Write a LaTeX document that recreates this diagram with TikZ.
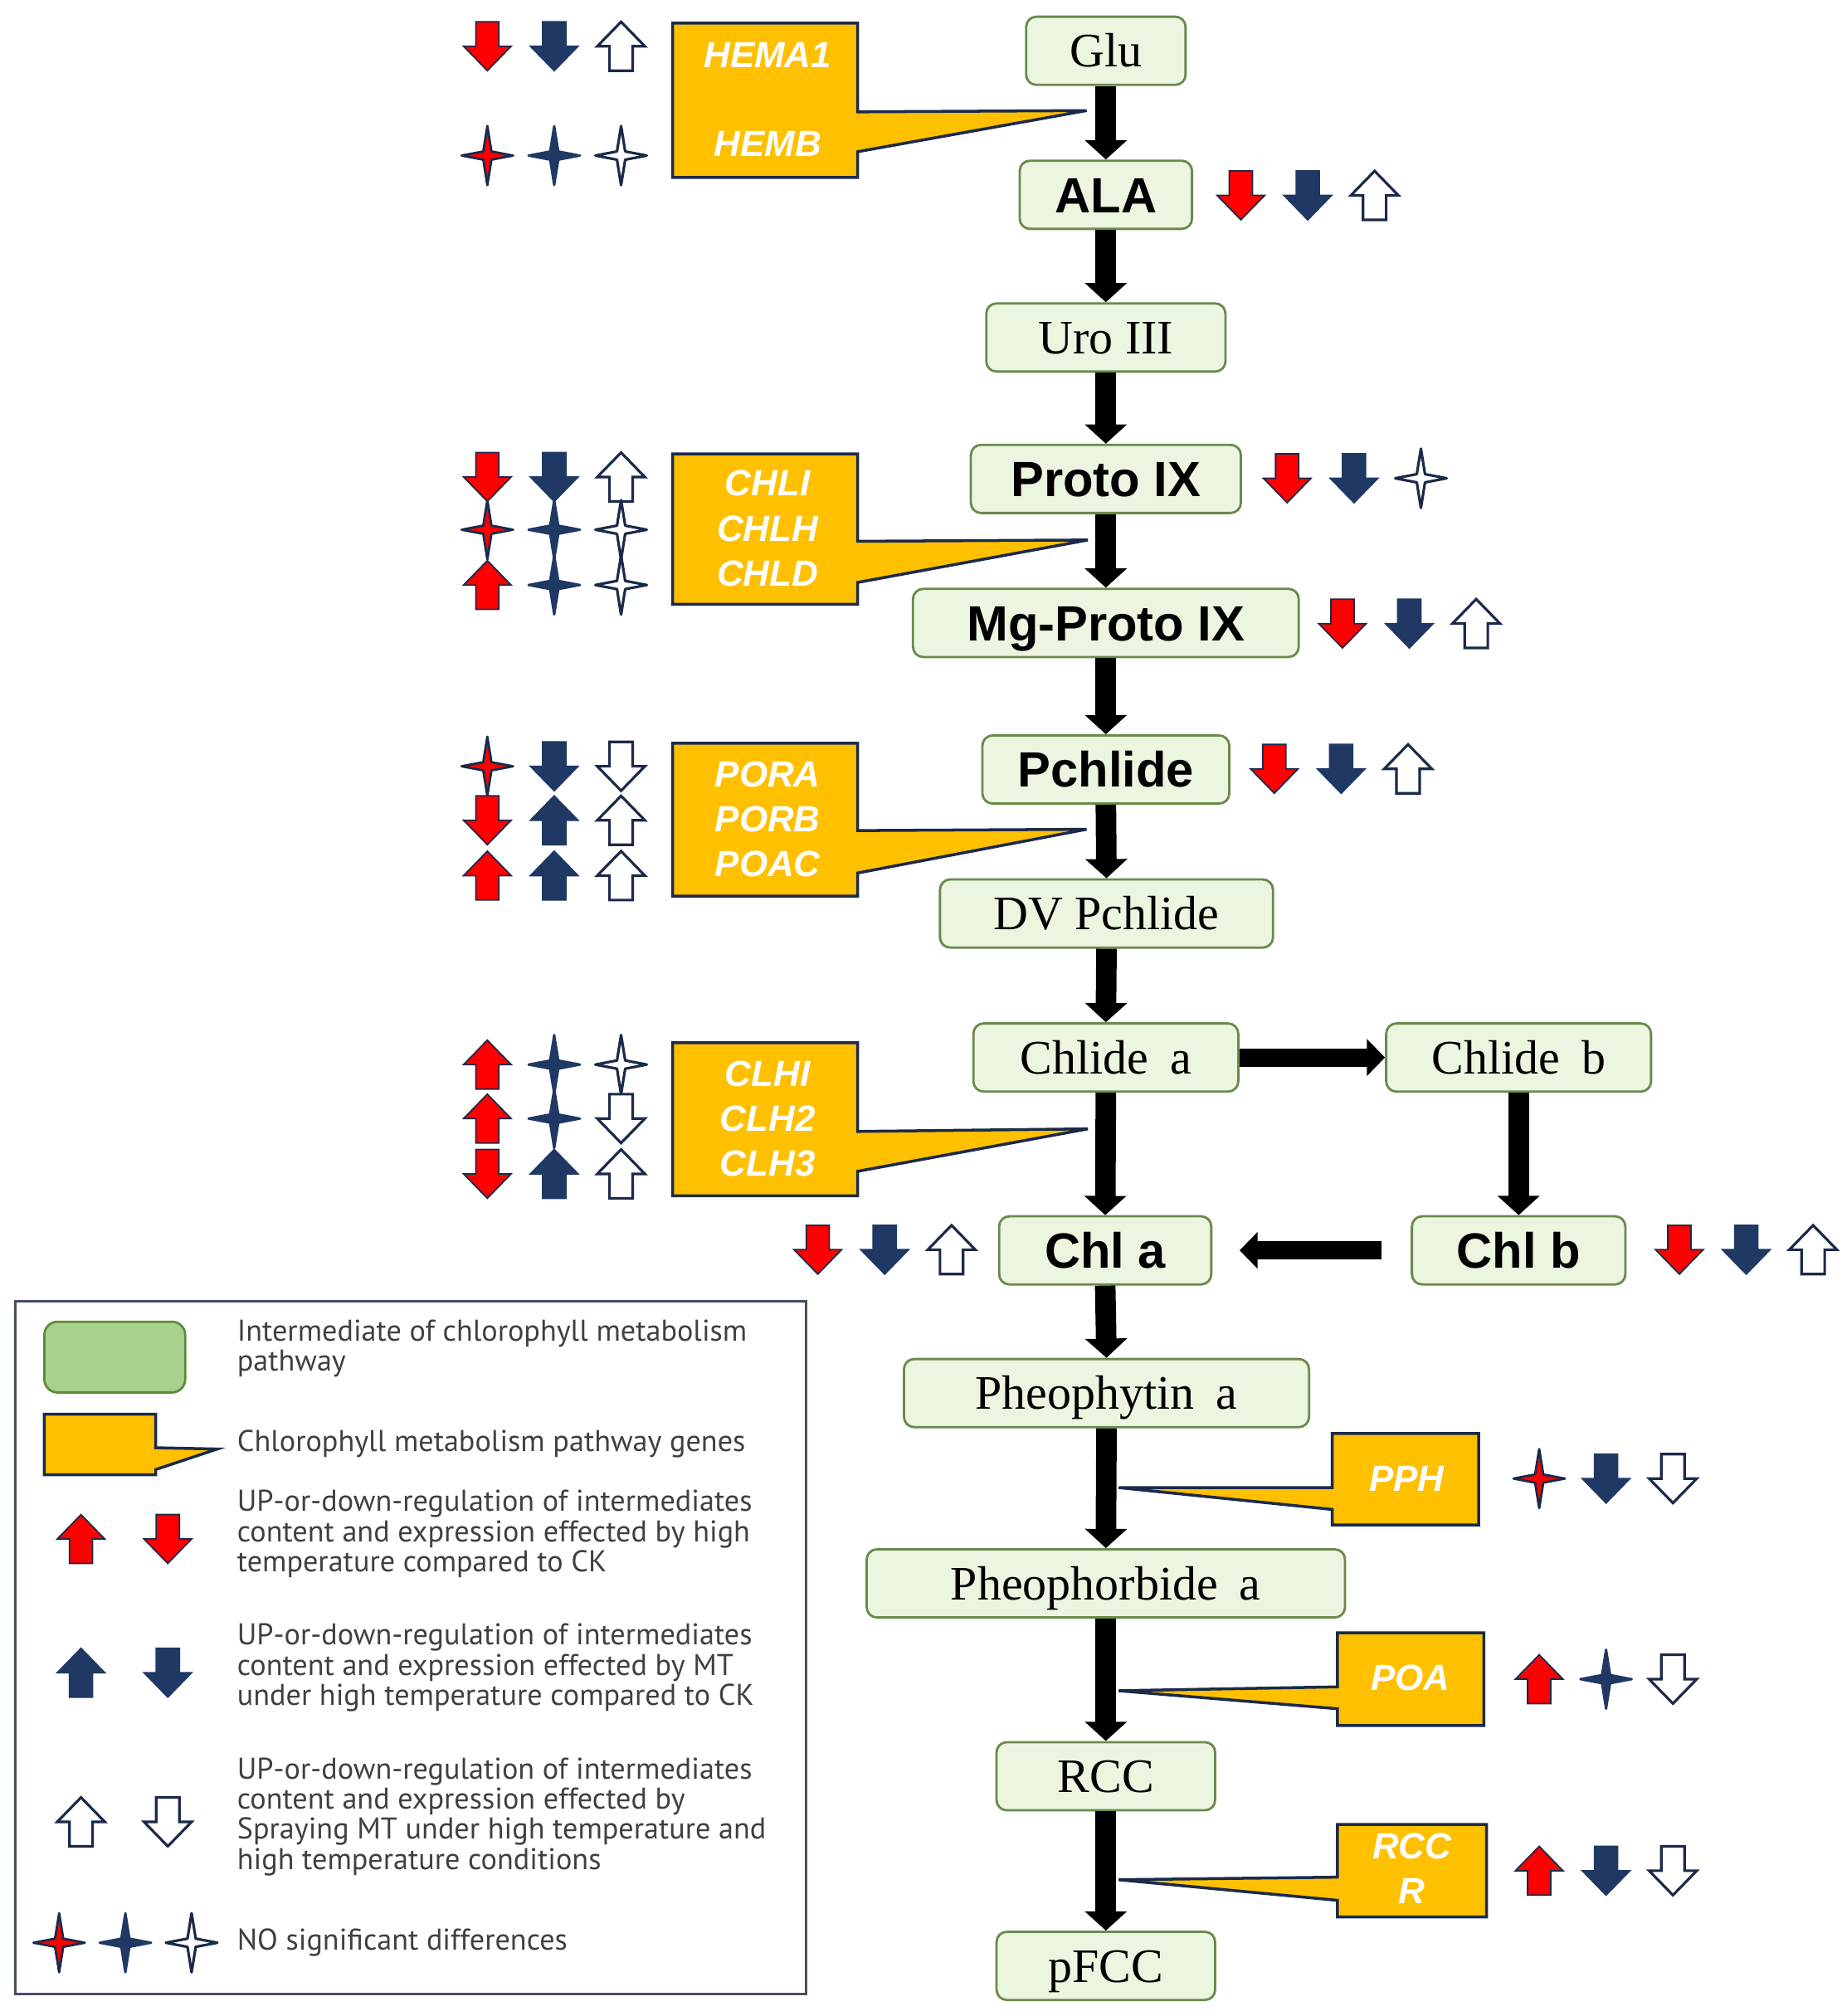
\documentclass[tikz,border=0pt]{standalone}
\usepackage{fontspec}
\setmainfont{Liberation Serif}
\newfontfamily\boldsans{Liberation Sans}
\newfontfamily\legfont{PT Sans}
\usetikzlibrary{arrows.meta}
\definecolor{cred}{HTML}{FF0000}
\definecolor{cnavy}{HTML}{1F3864}
\definecolor{cedge}{HTML}{1B2A4A}
\definecolor{corange}{HTML}{FFC000}
\definecolor{cnodefill}{HTML}{EBF5E0}
\definecolor{cnodeedge}{HTML}{6A8A4A}
\definecolor{clegg}{HTML}{A9D18E}
\definecolor{cleggedge}{HTML}{5E8C3A}
\definecolor{ctext}{HTML}{404040}
\definecolor{cbox}{HTML}{465064}
\def\pu{0.015496cm}
\tikzset{
 inter/.style={draw=cnodeedge, line width=0.8pt, fill=cnodefill, rounded corners=3.5pt, inner sep=0pt, minimum height=53*\pu},
 sertext/.style={font=\fontsize{16.5}{19}\selectfont, text height=11.2pt, text depth=0pt},
 boldtext/.style={font=\boldsans\bfseries\fontsize{17}{20}\selectfont, text height=12.2pt, text depth=0pt},
 flow/.style={line width=7.05pt, -{Triangle[width=14.1pt,length=6.6pt]}},
 hflow/.style={line width=6.2pt, -{Triangle[width=12.3pt,length=6.2pt]}},
 gene/.style={fill=corange, draw=cedge, line width=1pt, line join=miter},
 genetext/.style={text=white, font=\boldsans\bfseries\itshape\fontsize{12.5}{15.4}\selectfont, inner sep=0pt, align=center},
 legtext/.style={text=ctext, font=\legfont\fontsize{10.3}{10.3}\selectfont, align=left, anchor=west, inner sep=0pt},
}
\newcommand\dnarr[5]{\path[fill=#3,draw=#4,line width=#5,line join=miter,shift={(#1,#2)}] (-9,-19)--(9,-19)--(9,0)--(18.5,0)--(0,19)--(-18.5,0)--(-9,0)--cycle;}
\newcommand\uparr[5]{\path[fill=#3,draw=#4,line width=#5,line join=miter,shift={(#1,#2)}] (-9,19)--(9,19)--(9,0)--(18.5,0)--(0,-19)--(-18.5,0)--(-9,0)--cycle;}
\newcommand\starsym[5]{\path[fill=#3,draw=#4,line width=#5,line join=round,shift={(#1,#2)}] (0,-23)--(3.2,-3.2)--(20,0)--(3.2,3.2)--(0,23)--(-3.2,3.2)--(-20,0)--(-3.2,-3.2)--cycle;}
\newcommand\symrd[2]{\dnarr{#1}{#2}{cred}{cedge}{0.5pt}}
\newcommand\symnd[2]{\dnarr{#1}{#2}{cnavy}{cnavy}{0.5pt}}
\newcommand\symwd[2]{\dnarr{#1}{#2}{white}{cedge}{0.9pt}}
\newcommand\symru[2]{\uparr{#1}{#2}{cred}{cedge}{0.5pt}}
\newcommand\symnu[2]{\uparr{#1}{#2}{cnavy}{cnavy}{0.5pt}}
\newcommand\symwu[2]{\uparr{#1}{#2}{white}{cedge}{0.9pt}}
\newcommand\symrs[2]{\starsym{#1}{#2}{cred}{cedge}{0.8pt}}
\newcommand\symns[2]{\starsym{#1}{#2}{cnavy}{cnavy}{0.8pt}}
\newcommand\symws[2]{\starsym{#1}{#2}{white}{cedge}{0.9pt}}
\newcommand\sym[3]{\csname sym#3\endcsname{#1}{#2}}
\newcommand\trip[5]{\sym{#1}{#2}{#3}\sym{#1+52}{#2}{#4}\sym{#1+104}{#2}{#5}}
\begin{document}
\begin{tikzpicture}[x=0.015496cm, y=-0.015496cm]
\fill[white] (0,0) rectangle (1432,1568);
\useasboundingbox (0,0) rectangle (1432,1568);

% gene callouts
\path[gene] (523,18) -- (667,18) -- (667,87) -- (845,86) -- (667,118) -- (667,138) -- (523,138) -- cycle;
\path[gene] (523,353) -- (667,353) -- (667,421) -- (846,420) -- (667,453) -- (667,470) -- (523,470) -- cycle;
\path[gene] (523,578) -- (667,578) -- (667,646) -- (845,645) -- (667,679) -- (667,697) -- (523,697) -- cycle;
\path[gene] (523,811) -- (667,811) -- (667,880) -- (846,878) -- (667,911) -- (667,930) -- (523,930) -- cycle;
\path[gene] (1036,1115) -- (1150,1115) -- (1150,1186) -- (1036,1186) -- (1036,1174) -- (870,1157) -- (1036,1157) -- cycle;
\path[gene] (1040,1270) -- (1154,1270) -- (1154,1342) -- (1040,1342) -- (1040,1329) -- (870,1315) -- (1040,1312) -- cycle;
\path[gene] (1040,1419) -- (1156,1419) -- (1156,1491) -- (1040,1491) -- (1040,1478) -- (870,1462) -- (1040,1460) -- cycle;

\node[genetext] (hema1) at (597,43) {HEMA1};
\node[genetext] (hemb) at (597,112) {HEMB};
\node[genetext] (chl) at (597,411) {CHLI\\CHLH\\CHLD};
\node[genetext] (por) at (597,637) {PORA\\PORB\\POAC};
\node[genetext] (clh) at (597,870) {CLHI\\CLH2\\CLH3};
\node[genetext] (pph) at (1094,1150) {PPH};
\node[genetext] (poa) at (1097,1305) {POA};
\node[genetext] (rccr) at (1098,1453) {RCC\\R};

% intermediates
\node[inter, sertext, minimum width=124*\pu] (glu) at (860,39.5) {Glu};
\node[inter, boldtext, minimum width=134*\pu] (ala) at (860,151.5) {ALA};
\node[inter, sertext, minimum width=186*\pu] (uro) at (860,262.5) {Uro III};
\node[inter, boldtext, minimum width=210*\pu] (proto) at (860,372.5) {Proto IX};
\node[inter, boldtext, minimum width=300*\pu] (mgproto) at (860,484.5) {Mg-Proto IX};
\node[inter, boldtext, minimum width=192*\pu] (pchlide) at (860,598.5) {Pchlide};
\node[inter, sertext, minimum width=259*\pu] (dvp) at (860.5,710.5) {DV Pchlide};
\node[inter, sertext, minimum width=206*\pu] (chlidea) at (860,822.5) {Chlide\hspace{0.45em}a};
\node[inter, sertext, minimum width=206*\pu] (chlideb) at (1181,822.5) {Chlide\hspace{0.45em}b};
\node[inter, boldtext, minimum width=165*\pu] (chla) at (859.5,972.5) {Chl a};
\node[inter, boldtext, minimum width=166*\pu] (chlb) at (1181,972.5) {Chl b};
\node[inter, sertext, minimum width=315*\pu] (pheophytin) at (860.5,1083.5) {Pheophytin\hspace{0.45em}a};
\node[inter, sertext, minimum width=372*\pu] (pheophorbide) at (860,1231.5) {Pheophorbide\hspace{0.45em}a};
\node[inter, sertext, minimum width=170*\pu] (rcc) at (860,1381.5) {RCC};
\node[inter, sertext, minimum width=170*\pu] (pfcc) at (860,1529) {pFCC};

% flow arrows
\draw[flow] (glu.south) -- (ala.north);
\draw[flow] (ala.south) -- (uro.north);
\draw[flow] (uro.south) -- (proto.north);
\draw[flow] (proto.south) -- (mgproto.north);
\draw[flow] (mgproto.south) -- (pchlide.north);
\draw[flow] (pchlide.south) -- (dvp.north);
\draw[flow] (dvp.south) -- (chlidea.north);
\draw[flow] (chlidea.south) -- (chla.north);
\draw[flow] (chlideb.south) -- (chlb.north);
\draw[hflow] (chlidea.east) -- (chlideb.west);
\draw[hflow, shorten <=10.1pt, shorten >=9.3pt] (chlb.west) -- (chla.east);
\draw[flow] (chla.south) -- (pheophytin.north);
\draw[flow] (pheophytin.south) -- (pheophorbide.north);
\draw[flow] (pheophorbide.south) -- (rcc.north);
\draw[flow] (rcc.south) -- (pfcc.north);

% regulation symbols
\trip{379}{36}{rd}{nd}{wu}
\trip{379}{121}{rs}{ns}{ws}
\trip{965}{152}{rd}{nd}{wu}
\trip{379}{371}{rd}{nd}{wu}
\trip{379}{412}{rs}{ns}{ws}
\trip{379}{455}{ru}{ns}{ws}
\trip{1001}{372}{rd}{nd}{ws}
\trip{1044}{485}{rd}{nd}{wu}
\trip{379}{596}{rs}{nd}{wd}
\trip{379}{638}{rd}{nu}{wu}
\trip{379}{681}{ru}{nu}{wu}
\trip{991}{598}{rd}{nd}{wu}
\trip{379}{828}{ru}{ns}{ws}
\trip{379}{870}{ru}{ns}{wd}
\trip{379}{913}{rd}{nu}{wu}
\trip{636}{972}{rd}{nd}{wu}
\trip{1306}{972}{rd}{nd}{wu}
\trip{1197}{1150}{rs}{nd}{wd}
\trip{1197}{1306}{ru}{ns}{wd}
\trip{1197}{1455}{ru}{nd}{wd}

% legend
\draw[cbox, line width=1pt] (12,1012) rectangle (627,1551);
\path[fill=clegg, draw=cleggedge, line width=0.8pt, rounded corners=4.5pt] (34.5,1028) rectangle (144,1083);
\path[gene] (34.5,1100) -- (121,1100) -- (121,1126) -- (169,1127) -- (121,1143) -- (121,1147) -- (34.5,1147) -- cycle;
\sym{63}{1197}{ru}\sym{130.5}{1197}{rd}
\sym{63}{1301}{nu}\sym{130.5}{1301}{nd}
\sym{63}{1417}{wu}\sym{130.5}{1417}{wd}
\sym{46}{1511}{rs}\sym{97.5}{1511}{ns}\sym{149}{1511}{ws}
\node[legtext] (leg1) at (184,1049) {Intermediate of chlorophyll metabolism\\pathway};
\node[legtext] (leg2) at (184,1123) {Chlorophyll metabolism pathway genes};
\node[legtext] (leg3) at (184,1193) {UP-or-down-regulation of intermediates\\content and expression effected by high\\temperature compared to CK};
\node[legtext] (leg4) at (184,1297) {UP-or-down-regulation of intermediates\\content and expression effected by MT\\under high temperature compared to CK};
\node[legtext] (leg5) at (184,1413) {UP-or-down-regulation of intermediates\\content and expression effected by\\Spraying MT under high temperature and\\high temperature conditions};
\node[legtext] (leg6) at (184,1511) {NO significant differences};
\end{tikzpicture}
\end{document}
